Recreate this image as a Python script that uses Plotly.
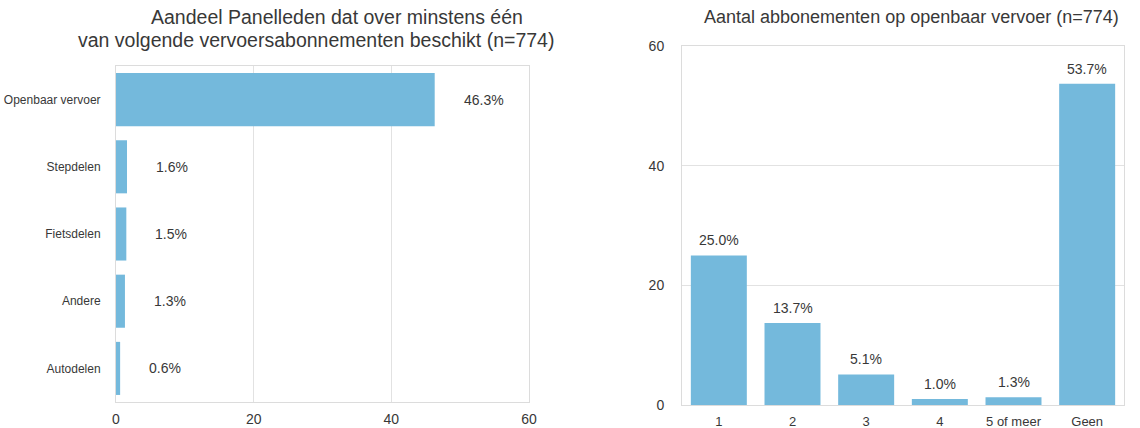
import plotly.graph_objects as go

# Left chart data
left_categories = ["Openbaar vervoer", "Stepdelen", "Fietsdelen", "Andere", "Autodelen"]
left_values = [46.3, 1.6, 1.5, 1.3, 0.6]
left_title_1 = "Aandeel Panelleden dat over minstens één"
left_title_2 = "van volgende vervoersabonnementen beschikt (n=774)"

# Right chart data
right_categories = ["1", "2", "3", "4", "5 of meer", "Geen"]
right_values = [25.0, 13.7, 5.1, 1.0, 1.3, 53.7]
right_title = "Aantal abbonementen op openbaar vervoer (n=774)"

axis_ticks = [0, 20, 40, 60]

W, H = 1140, 428
BAR = "#74b9dc"
GRID = "#e2e2e2"
TXT = "#383838"
FONT = "Liberation Sans, Arial, sans-serif"

fig = go.Figure()

fig.add_trace(go.Bar(
    y=left_categories, x=left_values, orientation="h",
    marker=dict(color=BAR, line=dict(width=0)),
    xaxis="x", yaxis="y", hoverinfo="skip", showlegend=False,
))
fig.add_trace(go.Bar(
    x=right_categories, y=right_values, width=0.76,
    marker=dict(color=BAR, line=dict(width=0)),
    xaxis="x2", yaxis="y2", hoverinfo="skip", showlegend=False,
))

annotations = []
for i, v in enumerate(left_values):
    annotations.append(dict(
        x=v, y=i, xref="x", yref="y", text=f"{v:.1f}%",
        showarrow=False, xanchor="left", yanchor="middle", xshift=27,
        font=dict(family=FONT, size=14, color=TXT),
    ))
for i, v in enumerate(right_values):
    annotations.append(dict(
        x=i, y=v, xref="x2", yref="y2", text=f"{v:.1f}%", showarrow=False,
        xanchor="center", yanchor="bottom", yshift=5,
        font=dict(family=FONT, size=14, color=TXT),
    ))
annotations.append(dict(
    x=337 / W, y=1 - 17 / H, xref="paper", yref="paper", text=left_title_1,
    showarrow=False, xanchor="center", yanchor="middle",
    font=dict(family=FONT, size=19.5, color=TXT),
))
annotations.append(dict(
    x=316 / W, y=1 - 40 / H, xref="paper", yref="paper", text=left_title_2,
    showarrow=False, xanchor="center", yanchor="middle",
    font=dict(family=FONT, size=19.5, color=TXT),
))
annotations.append(dict(
    x=911 / W, y=1 - 17 / H, xref="paper", yref="paper", text=right_title,
    showarrow=False, xanchor="center", yanchor="middle",
    font=dict(family=FONT, size=18, color=TXT),
))

frame = dict(showline=True, linecolor="#dcdcdc", linewidth=1, mirror=True,
             zeroline=False, automargin=False)

fig.update_layout(
    width=W, height=H,
    margin=dict(l=0, r=0, t=0, b=0),
    paper_bgcolor="white", plot_bgcolor="white",
    font=dict(family=FONT, color=TXT),
    bargap=0.21,
    annotations=annotations,
    xaxis=dict(domain=[116 / W, 529 / W], range=[0, 60], tickvals=axis_ticks,
               showgrid=True, gridcolor=GRID, gridwidth=1, anchor="y",
               tickfont=dict(size=14, color=TXT), ticklabelstandoff=4, **frame),
    yaxis=dict(domain=[(H - 402) / H, (H - 66) / H], autorange="reversed",
               showgrid=False, anchor="x", type="category",
               tickfont=dict(size=12, color=TXT), ticklabelstandoff=12, **frame),
    xaxis2=dict(domain=[682 / W, 1124 / W], showgrid=False, anchor="y2",
                type="category",
                tickfont=dict(size=13, color=TXT), ticklabelstandoff=4, **frame),
    yaxis2=dict(domain=[(H - 405) / H, (H - 46) / H], range=[0, 60],
                tickvals=axis_ticks, showgrid=True, gridcolor=GRID, gridwidth=1,
                anchor="x2", tickfont=dict(size=14, color=TXT),
                ticklabelstandoff=14, **frame),
)

fig.write_html(
    "out.html",
    config={"displayModeBar": False},
    post_script="document.body.style.margin='0';document.body.style.padding='0';",
)
